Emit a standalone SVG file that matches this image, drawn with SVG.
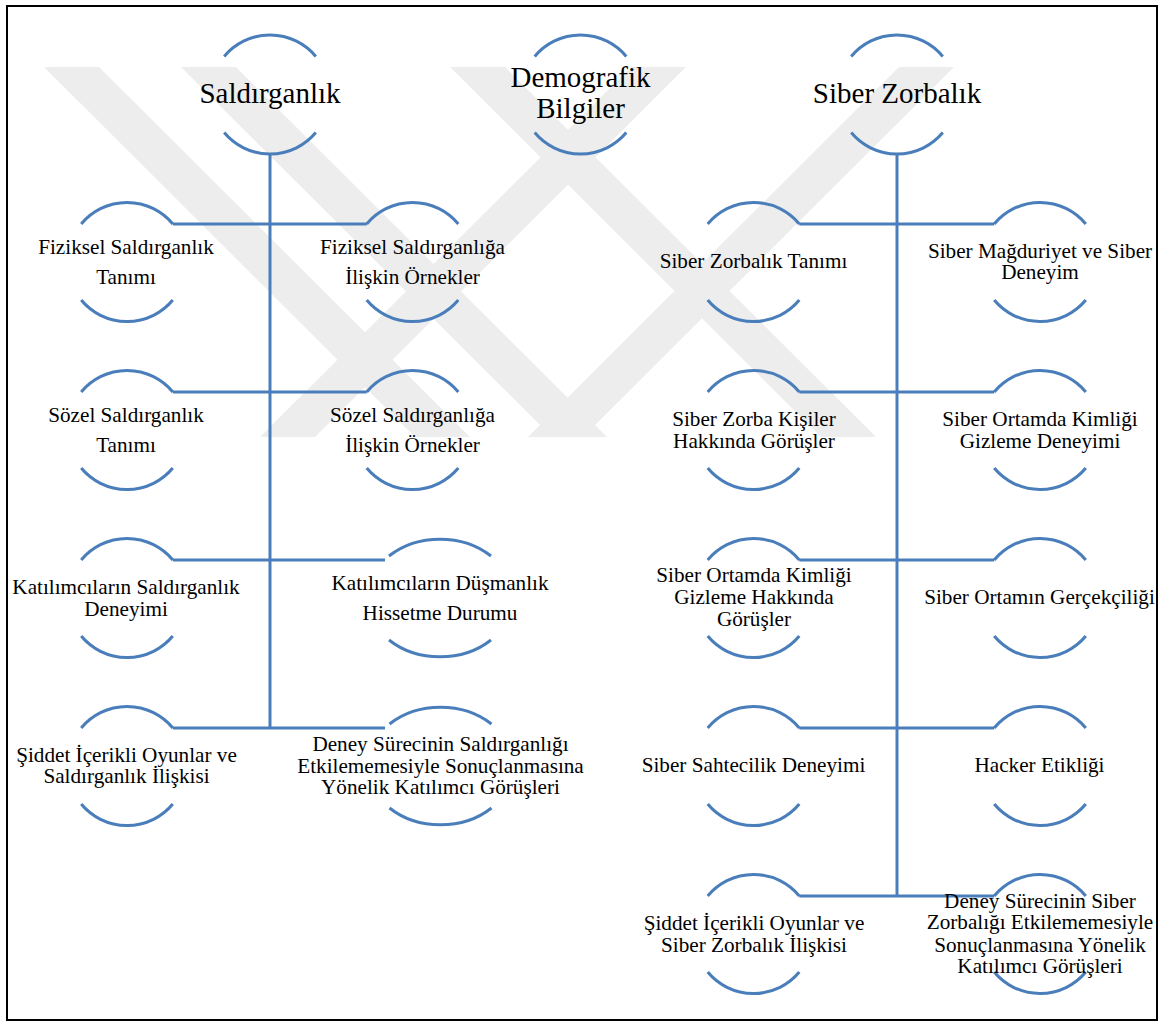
<svg xmlns="http://www.w3.org/2000/svg" xmlns:xlink="http://www.w3.org/1999/xlink" width="1163" height="1023" viewBox="0 0 1163 1023">
<style>
.arc{fill:none;stroke:#4a7ebb;stroke-width:3}
.con{fill:none;stroke:#4a7ebb;stroke-width:3}
.wm{fill:#ededed}
text{font-family:"Liberation Serif","Times New Roman",serif;fill:#000;text-anchor:middle}
.t{font-size:21.2px}
.h{font-size:29px}
</style>
<defs>
<path id="nc" d="M-45.8,-38 A59.5,59.5 0 0 1 45.8,-38 M-45.8,38 A59.5,59.5 0 0 0 45.8,38"/>
<path id="nw" d="M-51,-42 A73,59 0 0 1 51,-42 M-51,42 A73,59 0 0 0 51,42"/>
</defs>
<rect x="0" y="0" width="1163" height="1023" fill="#fff"/>
<g id="watermark">
<polygon class="wm" points="44,67 99,67 470,437 415,437"/>
<polygon class="wm" points="181,67 236,67 607,437 552,437"/>
<polygon class="wm" points="450,67 505,67 876,437 821,437"/>
<polygon class="wm" points="631,67 686,67 315,437 260,437"/>
<polygon class="wm" points="899,67 954,67 583,437 528,437"/>
</g>
<rect x="7" y="6" width="1150" height="1014" fill="none" stroke="#000" stroke-width="2"/>
<g id="connectors">
<path class="con" d="M270,154V728M172.8,224H366.7M172.8,392H366.7M172.8,560H385M172.8,728H385"/>
<path class="con" d="M897,154V896M799.3,224H994.2M799.3,392H994.2M799.3,560H994.2M799.3,728H994.2M799.3,896H994.2"/>
</g>
<g id="n-saldirganlik"><use href="#nc" class="arc" x="270" y="94.5"/><text class="h" x="270" y="103.3">Saldırganlık</text></g>
<g id="n-demografik"><use href="#nc" class="arc" x="580.5" y="94.5"/><text class="h" x="580.5" y="87.3">Demografik</text><text class="h" x="580.5" y="118.3">Bilgiler</text></g>
<g id="n-siber"><use href="#nc" class="arc" x="897" y="94.5"/><text class="h" x="897" y="103.3">Siber Zorbalık</text></g>

<g id="n-l1a"><use href="#nc" class="arc" x="127" y="262"/><text class="t" x="126" y="254">Fiziksel Saldırganlık</text><text class="t" x="126" y="283.5">Tanımı</text></g>
<g id="n-l1b"><use href="#nc" class="arc" x="412.5" y="262"/><text class="t" x="412.5" y="254">Fiziksel Saldırganlığa</text><text class="t" x="412.5" y="283.5">İlişkin Örnekler</text></g>
<g id="n-l2a"><use href="#nc" class="arc" x="127" y="430"/><text class="t" x="126" y="422">Sözel Saldırganlık</text><text class="t" x="126" y="452">Tanımı</text></g>
<g id="n-l2b"><use href="#nc" class="arc" x="412.5" y="430"/><text class="t" x="412.5" y="422">Sözel Saldırganlığa</text><text class="t" x="412.5" y="452">İlişkin Örnekler</text></g>
<g id="n-l3a"><use href="#nc" class="arc" x="127" y="598"/><text class="t" x="126" y="594">Katılımcıların Saldırganlık</text><text class="t" x="126" y="616">Deneyimi</text></g>
<g id="n-l3b"><use href="#nw" class="arc" x="440" y="598"/><text class="t" x="440" y="590">Katılımcıların Düşmanlık</text><text class="t" x="440" y="620">Hissetme Durumu</text></g>
<g id="n-l4a"><use href="#nc" class="arc" x="127" y="766"/><text class="t" x="126.5" y="761.7">Şiddet İçerikli Oyunlar ve</text><text class="t" x="126.5" y="783.3">Saldırganlık İlişkisi</text></g>
<g id="n-l4b"><use href="#nw" class="arc" x="440.5" y="766"/><text class="t" x="440.5" y="751">Deney Sürecinin Saldırganlığı</text><text class="t" x="440.5" y="772.7">Etkilememesiyle Sonuçlanmasına</text><text class="t" x="440.5" y="794.3">Yönelik Katılımcı Görüşleri</text></g>

<g id="n-r1a"><use href="#nc" class="arc" x="753.5" y="262"/><text class="t" x="753.5" y="268.3">Siber Zorbalık Tanımı</text></g>
<g id="n-r1b"><use href="#nc" class="arc" x="1040" y="262"/><text class="t" x="1040" y="258.3">Siber Mağduriyet ve Siber</text><text class="t" x="1040" y="279.3">Deneyim</text></g>
<g id="n-r2a"><use href="#nc" class="arc" x="753.5" y="430"/><text class="t" x="754" y="426">Siber Zorba Kişiler</text><text class="t" x="754" y="447.7">Hakkında Görüşler</text></g>
<g id="n-r2b"><use href="#nc" class="arc" x="1040" y="430"/><text class="t" x="1040" y="426">Siber Ortamda Kimliği</text><text class="t" x="1040" y="448">Gizleme Deneyimi</text></g>
<g id="n-r3a"><use href="#nc" class="arc" x="753.5" y="598"/><text class="t" x="754" y="582.3">Siber Ortamda Kimliği</text><text class="t" x="754" y="604.3">Gizleme Hakkında</text><text class="t" x="754" y="626">Görüşler</text></g>
<g id="n-r3b"><use href="#nc" class="arc" x="1040" y="598"/><text class="t" x="1039.5" y="604.3">Siber Ortamın Gerçekçiliği</text></g>
<g id="n-r4a"><use href="#nc" class="arc" x="753.5" y="766"/><text class="t" x="753.5" y="772.3">Siber Sahtecilik Deneyimi</text></g>
<g id="n-r4b"><use href="#nc" class="arc" x="1040" y="766"/><text class="t" x="1039.5" y="772.3">Hacker Etikliği</text></g>
<g id="n-r5a"><use href="#nc" class="arc" x="753.5" y="934"/><text class="t" x="754" y="930">Şiddet İçerikli Oyunlar ve</text><text class="t" x="754" y="951.7">Siber Zorbalık İlişkisi</text></g>
<g id="n-r5b"><use href="#nc" class="arc" x="1040" y="934"/><text class="t" x="1040" y="907.7">Deney Sürecinin Siber</text><text class="t" x="1040" y="929.3">Zorbalığı Etkilememesiyle</text><text class="t" x="1040" y="951.7">Sonuçlanmasına Yönelik</text><text class="t" x="1040" y="973.3">Katılımcı Görüşleri</text></g>
</svg>
